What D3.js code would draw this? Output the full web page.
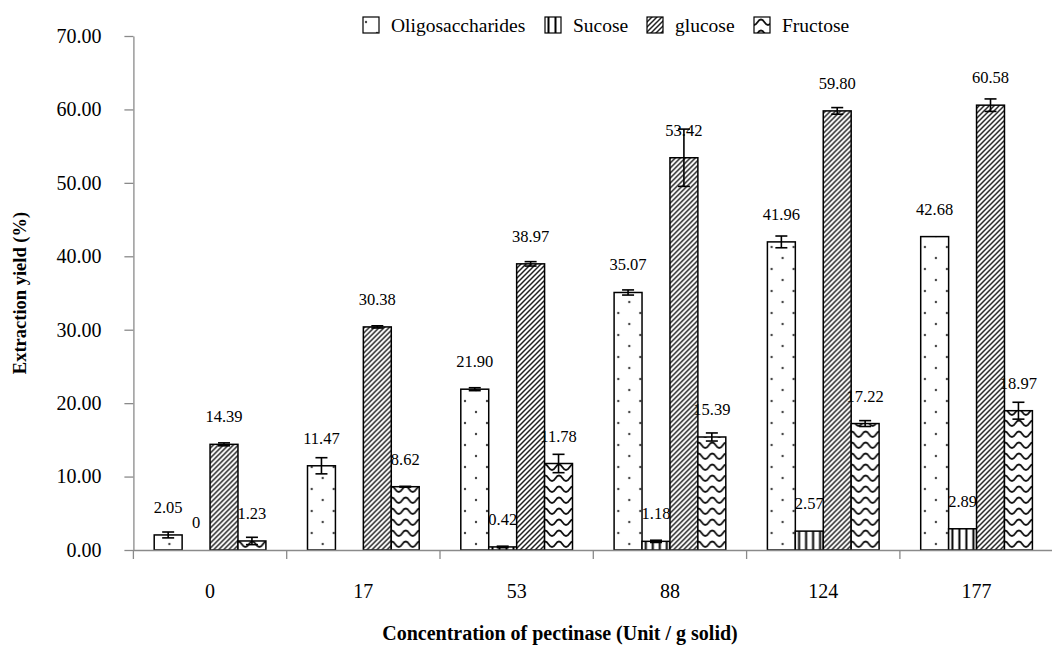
<!DOCTYPE html>
<html>
<head>
<meta charset="utf-8">
<script src="https://cdn.jsdelivr.net/npm/d3@7"></script>
<style>
  html, body { margin: 0; padding: 0; background: #fff; }
  svg, svg text { font-family: 'Liberation Serif', 'Times New Roman', 'DejaVu Serif', serif !important; }
</style>
</head>
<body>
<svg id="chart" width="1052" height="648"></svg>
<script>
// ---- data ----
const categories = ["0", "17", "53", "88", "124", "177"];
const seriesNames = ["Oligosaccharides", "Sucose", "glucose", "Fructose"];
const oligoValues = [2.05, 11.47, 21.90, 35.07, 41.96, 42.68];
const oligoErrors = [0.4, 1.1, 0.2, 0.35, 0.8, 0];
const sucroseValues = [0, 0, 0.42, 1.18, 2.57, 2.89];
const sucroseErrors = [0, 0, 0.1, 0.15, 0, 0];
const glucoseValues = [14.39, 30.38, 38.97, 53.42, 59.80, 60.58];
const glucoseErrors = [0.2, 0.15, 0.3, 3.9, 0.45, 0.85];
const fructoseValues = [1.23, 8.62, 11.78, 15.39, 17.22, 18.97];
const fructoseErrors = [0.5, 0.05, 1.25, 0.55, 0.4, 1.15];
const oligoLabels = ["2.05", "11.47", "21.90", "35.07", "41.96", "42.68"];
const sucroseLabels = ["0", "", "0.42", "1.18", "2.57", "2.89"];
const glucoseLabels = ["14.39", "30.38", "38.97", "53.42", "59.80", "60.58"];
const fructoseLabels = ["1.23", "8.62", "11.78", "15.39", "17.22", "18.97"];
const yTicks = [0, 10, 20, 30, 40, 50, 60, 70];
const xTitle = "Concentration of pectinase (Unit / g solid)";
const yTitle = "Extraction yield (%)";

const series = [
  { name: seriesNames[0], values: oligoValues, errors: oligoErrors, labels: oligoLabels, pat: "pOligo" },
  { name: seriesNames[1], values: sucroseValues, errors: sucroseErrors, labels: sucroseLabels, pat: "pSuc" },
  { name: seriesNames[2], values: glucoseValues, errors: glucoseErrors, labels: glucoseLabels, pat: "pGlu" },
  { name: seriesNames[3], values: fructoseValues, errors: fructoseErrors, labels: fructoseLabels, pat: "pFru" }
];

const FONT = "'Liberation Serif', 'Times New Roman', 'DejaVu Serif', serif";
const svg = d3.select("#chart").attr("font-family", FONT);
const plotLeft = 133.4, plotRight = 1053.2, plotTop = 36, plotBottom = 550;

// ---- patterns ----
const defs = svg.append("defs");
const pO = defs.append("pattern").attr("id", "pOligo").attr("patternUnits", "userSpaceOnUse")
  .attr("width", 22).attr("height", 22);
pO.append("rect").attr("width", 22).attr("height", 22).attr("fill", "#fff");
pO.append("circle").attr("cx", 3).attr("cy", 5).attr("r", 1.2).attr("fill", "#444");
pO.append("circle").attr("cx", 14).attr("cy", 16).attr("r", 1.2).attr("fill", "#444");

const pS = defs.append("pattern").attr("id", "pSuc").attr("patternUnits", "userSpaceOnUse")
  .attr("width", 7).attr("height", 7);
pS.append("rect").attr("width", 7).attr("height", 7).attr("fill", "#fff");
pS.append("rect").attr("x", 2.5).attr("width", 2).attr("height", 7).attr("fill", "#000");

const pG = defs.append("pattern").attr("id", "pGlu").attr("patternUnits", "userSpaceOnUse")
  .attr("width", 5).attr("height", 5);
pG.append("rect").attr("width", 5).attr("height", 5).attr("fill", "#fff");
pG.append("path").attr("d", "M-1,1 L1,-1 M0,5 L5,0 M4,6 L6,4")
  .attr("stroke", "#222").attr("stroke-width", 1.5);

const pF = defs.append("pattern").attr("id", "pFru").attr("patternUnits", "userSpaceOnUse")
  .attr("width", 14).attr("height", 11);
pF.append("rect").attr("width", 14).attr("height", 11).attr("fill", "#fff");
pF.append("path").attr("d", "M0,8 C3.5,8 3.5,2.5 7,2.5 C10.5,2.5 10.5,8 14,8")
  .attr("fill", "none").attr("stroke", "#111").attr("stroke-width", 1.8);

// ---- scales ----
const x0 = d3.scaleBand().domain(categories).range([plotLeft, plotRight]).padding(0);
const x1 = d3.scaleBand().domain(seriesNames).range([20.8, x0.bandwidth() - 20.8]).padding(0);
const y = d3.scaleLinear().domain([0, 70]).range([plotBottom, plotTop]);

// ---- axes ----
const yAxis = svg.append("g").attr("transform", `translate(${plotLeft},0)`)
  .call(d3.axisLeft(y).tickValues(yTicks).tickFormat(d3.format(".2f")).tickSize(9).tickPadding(23).tickSizeOuter(0));
yAxis.attr("font-family", FONT);
yAxis.selectAll("path.domain, line").attr("stroke", "#8a8a8a").attr("stroke-width", 1.3);
yAxis.selectAll("text").attr("font-size", 20).attr("fill", "#000");

// ---- bars ----
const groups = svg.append("g").selectAll("g").data(categories).join("g")
  .attr("transform", d => `translate(${x0(d)},0)`);

series.forEach(s => {
  groups.append("rect")
    .attr("x", x1(s.name))
    .attr("y", (d, i) => y(s.values[i]))
    .attr("width", x1.bandwidth())
    .attr("height", (d, i) => y(0) - y(s.values[i]))
    .attr("fill", `url(#${s.pat})`)
    .attr("stroke", (d, i) => s.values[i] > 0 ? "#000" : "none")
    .attr("stroke-width", 1.5);
});

// error bars
series.forEach(s => {
  groups.each(function(d, i) {
    const e = s.errors[i];
    if (!e) return;
    const cx = x1(s.name) + x1.bandwidth() / 2;
    const g = d3.select(this).append("g").attr("stroke", "#000").attr("stroke-width", 1.6);
    const y1 = y(s.values[i] + e), y2 = y(s.values[i] - e);
    g.append("line").attr("x1", cx).attr("x2", cx).attr("y1", y1).attr("y2", y2);
    g.append("line").attr("x1", cx - 6).attr("x2", cx + 6).attr("y1", y1).attr("y2", y1);
    g.append("line").attr("x1", cx - 6).attr("x2", cx + 6).attr("y1", y2).attr("y2", y2);
  });
});

// value labels
series.forEach(s => {
  groups.append("text")
    .attr("x", x1(s.name) + x1.bandwidth() / 2)
    .attr("y", (d, i) => y(s.values[i]) - 22)
    .attr("text-anchor", "middle")
    .attr("font-size", 16.5)
    .attr("fill", "#000")
    .text((d, i) => s.labels[i]);
});

// x axis
const xAxis = svg.append("g").attr("transform", `translate(0,${plotBottom})`)
  .call(d3.axisBottom(x0).tickSize(0).tickPadding(34));
xAxis.attr("font-family", FONT);
xAxis.select("path.domain").attr("stroke", "#8a8a8a").attr("stroke-width", 1.3);
xAxis.selectAll("text").attr("font-size", 20).attr("fill", "#000");
const bounds = categories.map(c => x0(c)).concat([x0(categories[categories.length - 1]) + x0.bandwidth()]);
xAxis.selectAll("line.bound").data(bounds).join("line").attr("class", "bound")
  .attr("x1", d => d).attr("x2", d => d).attr("y1", 0).attr("y2", 9)
  .attr("stroke", "#8a8a8a").attr("stroke-width", 1.3);

// axis titles
svg.append("text").attr("x", 560).attr("y", 640).attr("text-anchor", "middle")
  .attr("font-size", 20).attr("font-weight", "bold").text(xTitle);
svg.append("text").attr("transform", "translate(26,293) rotate(-90)").attr("text-anchor", "middle")
  .attr("font-size", 18.5).attr("font-weight", "bold").text(yTitle);

// legend
const legendX = [363, 545, 647, 754];
const legend = svg.append("g").selectAll("g").data(series).join("g")
  .attr("transform", (d, i) => `translate(${legendX[i]},17)`);
legend.append("rect").attr("width", 16).attr("height", 16)
  .attr("fill", d => `url(#${d.pat})`).attr("stroke", "#000").attr("stroke-width", 1.2);
legend.append("text").attr("x", 28).attr("y", 14.5).attr("font-size", 19.5).attr("fill", "#000")
  .text(d => d.name);
</script>
</body>
</html>
